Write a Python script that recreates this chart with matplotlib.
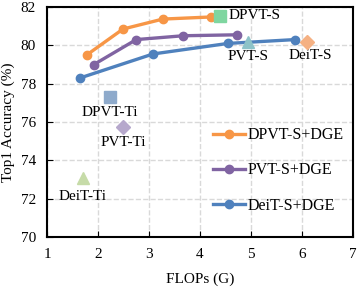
import matplotlib
matplotlib.use("Agg")
import matplotlib.pyplot as plt

plt.rcParams['font.family'] = ['Liberation Serif', 'DejaVu Serif']

# DGE curves
dpvt_x = [1.78, 2.49, 3.27, 4.22]
dpvt_y = [79.5, 80.85, 81.37, 81.48]
pvt_x = [1.92, 2.75, 3.67, 4.73]
pvt_y = [79.0, 80.3, 80.5, 80.55]
deit_x = [1.65, 3.08, 4.55, 5.86]
deit_y = [78.3, 79.55, 80.1, 80.3]

# baselines
base_names = ["DPVT-S", "PVT-S", "DeiT-S", "DPVT-Ti", "PVT-Ti", "DeiT-Ti"]
base_x = [4.39, 4.94, 6.1, 2.24, 2.49, 1.7]
base_y = [81.55, 80.2, 80.2, 77.3, 75.75, 73.1]
base_markers = ["s", "^", "D", "s", "D", "^"]
base_colors = ["#7fd6a0", "#8dc3c8", "#f5b183", "#8eaacb", "#b6a8cc", "#c6dba8"]

fig = plt.figure(figsize=(3.57, 2.89), dpi=100)
ax = fig.add_axes([47/357, 1 - 237/289, 306/357, 230/289])

ax.plot(dpvt_x, dpvt_y, color="#f79646", lw=2.4, marker="o", ms=6, label="DPVT-S+DGE", zorder=3)
ax.plot(pvt_x, pvt_y, color="#8064a2", lw=2.4, marker="o", ms=6, label="PVT-S+DGE", zorder=3)
ax.plot(deit_x, deit_y, color="#4f81bd", lw=2.4, marker="o", ms=6, label="DeiT-S+DGE", zorder=3)

for i in range(len(base_names)):
    ms = 8 if base_markers[i] != "D" else 7
    ax.plot(base_x[i], base_y[i], marker=base_markers[i], color=base_colors[i], ms=ms, ls="none", zorder=4)

ax.text(4.55, 81.55, "DPVT-S", fontsize=11, va="center", ha="left")
ax.text(4.94, 79.4, "PVT-S", fontsize=11, va="center", ha="center")
ax.text(6.16, 79.45, "DeiT-S", fontsize=11, va="center", ha="center")
ax.text(2.24, 76.5, "DPVT-Ti", fontsize=11, va="center", ha="center")
ax.text(2.49, 74.95, "PVT-Ti", fontsize=11, va="center", ha="center")
ax.text(1.7, 72.1, "DeiT-Ti", fontsize=11, va="center", ha="center")

ax.set_xlim(1, 7)
ax.set_ylim(70, 82)
ax.set_xticks(range(1, 8))
ax.set_yticks(range(70, 83, 2))
ax.grid(True, ls="--", color="#d9d9d9", lw=1)
ax.set_axisbelow(True)
ax.tick_params(direction="in", labelsize=11, length=4)
ax.tick_params(axis="x", pad=8)
ax.tick_params(axis="y", pad=8)
for s in ax.spines.values():
    s.set_linewidth(1.5)

ax.set_xlabel("FLOPs (G)", fontsize=11, labelpad=8)
ax.set_ylabel("Top1 Accuracy (%)", fontsize=11, labelpad=4)

ax.legend(loc="lower right", bbox_to_anchor=(1.0, 0.06), frameon=False, fontsize=11.5,
          handlelength=2.0, handletextpad=0.15, labelspacing=1.2, borderaxespad=0.2)

fig.savefig("out.png", dpi=100)
